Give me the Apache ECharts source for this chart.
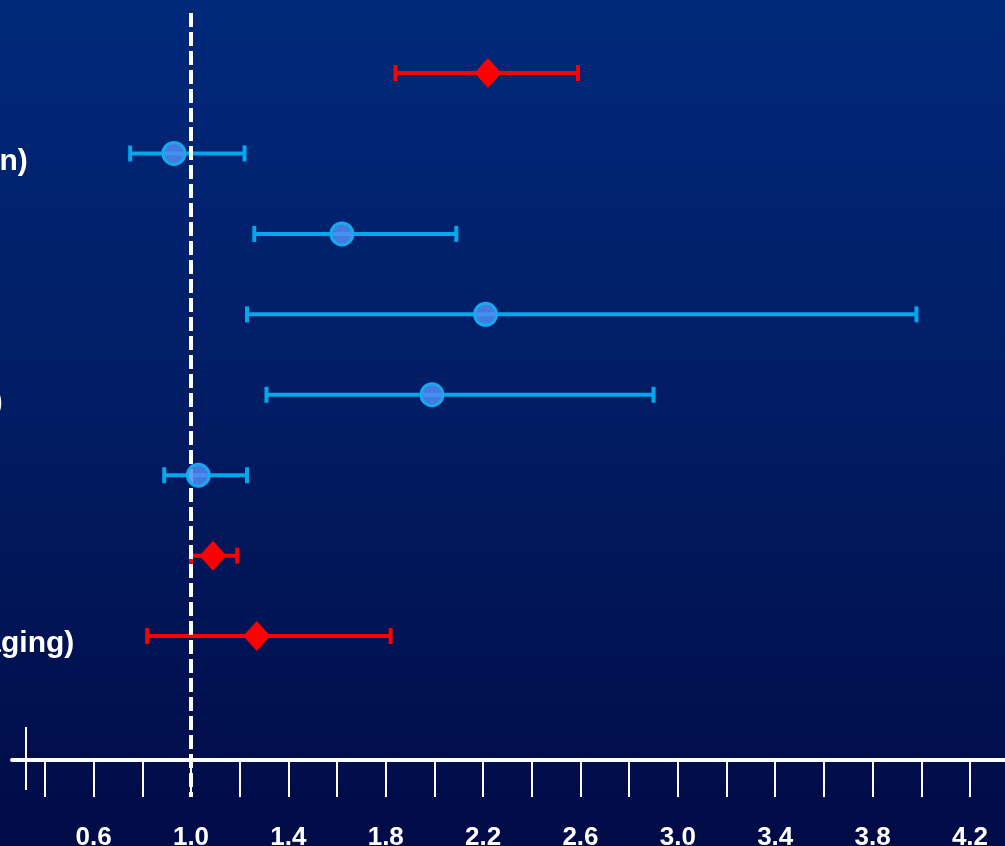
<!DOCTYPE html>
<html>
<head>
<meta charset="utf-8">
<title>Forest plot</title>
<script src="https://cdn.jsdelivr.net/npm/echarts@6/dist/echarts.min.js"></script>
<style>
  html, body { margin: 0; padding: 0; background: #01164f; }
  #chart { width: 1005px; height: 846px; }
</style>
</head>
<body>
<div id="chart"></div>
<script>
// Study rows, top to bottom
const ROW_LABELS = [
  'Overall',
  'Cohort 1 (Caucasian)',
  'Cohort 2',
  'Cohort 3',
  'Cohort 4 (Hispanic)',
  'Cohort 5',
  'Subgroup (ECG)',
  'Subgroup (MRI imaging)'
];
const ROW_INDEX = [1, 2, 3, 4, 5, 6, 7, 8];

// Point estimates and 95% confidence limits
const ESTIMATES = [2.22, 0.93, 1.62, 2.21, 1.99, 1.03, 1.09, 1.27];
const CI_LOW    = [1.84, 0.75, 1.26, 1.23, 1.31, 0.89, 1.00, 0.82];
const CI_HIGH   = [2.59, 1.22, 2.09, 3.98, 2.90, 1.23, 1.19, 1.82];
// Pooled estimates are drawn as red diamonds, single cohorts as blue circles
const IS_POOLED = [true, false, false, false, false, false, true, true];

// Axis ticks and labels
const TICK_VALUES  = [0.4, 0.6, 0.8, 1.0, 1.2, 1.4, 1.6, 1.8, 2.0, 2.2, 2.4, 2.6, 2.8, 3.0, 3.2, 3.4, 3.6, 3.8, 4.0, 4.2];
const LABEL_VALUES = [0.6, 1.0, 1.4, 1.8, 2.2, 2.6, 3.0, 3.4, 3.8, 4.2];
const REFERENCE_VALUE = 1.0;
const AXIS_ORIGIN = 0.32;
const X_MIN = 0.2646, X_MAX = 4.344;
const Y_MIN = 0.2167, Y_MAX = 10;

const RED = '#ff0000';
const BLUE = '#00a8ec';

const chart = echarts.init(document.getElementById('chart'), null, { renderer: 'canvas' });

const barData = ROW_INDEX.map((r, i) => [CI_LOW[i], CI_HIGH[i], r, IS_POOLED[i] ? 1 : 0]);
const pooledPoints = [];
const cohortPoints = [];
ROW_INDEX.forEach((r, i) => {
  (IS_POOLED[i] ? pooledPoints : cohortPoints).push([ESTIMATES[i], r]);
});

const font = "'Liberation Sans', Arial, sans-serif";

chart.setOption({
  animation: false,
  backgroundColor: {
    type: 'linear', x: 0, y: 0, x2: 0, y2: 1,
    colorStops: [
      { offset: 0, color: '#00297b' },
      { offset: 0.5, color: '#011c62' },
      { offset: 1, color: '#010b47' }
    ]
  },
  grid: { left: 12, right: 0, top: 10, bottom: 49, containLabel: false, outerBoundsMode: 'none' },
  xAxis: [
    {
      type: 'value', min: X_MIN, max: X_MAX, position: 'bottom', offset: -37,
      splitLine: { show: false },
      axisLine: { show: true, lineStyle: { color: '#ffffff', width: 4 } },
      axisTick: { show: true, customValues: TICK_VALUES, length: 37, lineStyle: { color: '#ffffff', width: 2 } },
      axisLabel: {
        show: true, customValues: LABEL_VALUES, margin: 65,
        color: '#ffffff', fontFamily: font, fontWeight: 'bold', fontSize: 26,
        formatter: v => v.toFixed(1)
      }
    },
    {
      type: 'value', min: X_MIN, max: X_MAX, position: 'bottom', offset: -70,
      splitLine: { show: false },
      axisLine: { show: false },
      axisTick: { show: true, customValues: [AXIS_ORIGIN], length: 63, lineStyle: { color: '#ffffff', width: 2 } },
      axisLabel: { show: false }
    }
  ],
  yAxis: {
    type: 'value', inverse: true, min: Y_MIN, max: Y_MAX,
    splitLine: { show: false },
    axisLine: { show: false },
    axisTick: { show: false },
    axisLabel: {
      show: true, customValues: ROW_INDEX, align: 'left', margin: 286,
      verticalAlign: 'top', lineHeight: 16,
      color: '#ffffff', fontFamily: font, fontWeight: 'bold', fontSize: 30,
      formatter: v => ROW_LABELS[Math.round(v) - 1] || ''
    }
  },
  series: [
    {
      type: 'custom',
      z: 2,
      data: barData,
      renderItem: (params, api) => {
        const a = api.coord([api.value(0), api.value(2)]);
        const b = api.coord([api.value(1), api.value(2)]);
        const color = api.value(3) ? RED : BLUE;
        const half = 8;
        const style = { stroke: color, lineWidth: 4 };
        return {
          type: 'group',
          children: [
            { type: 'line', shape: { x1: a[0], y1: a[1], x2: b[0], y2: b[1] }, style },
            { type: 'line', shape: { x1: a[0], y1: a[1] - half, x2: a[0], y2: a[1] + half }, style },
            { type: 'line', shape: { x1: b[0], y1: b[1] - half, x2: b[0], y2: b[1] + half }, style }
          ]
        };
      }
    },
    {
      type: 'line',
      z: 3,
      silent: true,
      symbol: 'none',
      data: [[REFERENCE_VALUE, Y_MIN], [REFERENCE_VALUE, Y_MAX]],
      lineStyle: { color: '#ffffff', width: 4, type: [14, 5], dashOffset: -3 }
    },
    {
      type: 'scatter',
      z: 4,
      symbol: 'diamond',
      symbolSize: [27, 30],
      data: pooledPoints,
      itemStyle: { color: RED, opacity: 1 }
    },
    {
      type: 'scatter',
      z: 4,
      symbol: 'circle',
      symbolSize: 22,
      data: cohortPoints,
      itemStyle: { color: 'rgba(80,140,245,0.85)', borderColor: '#18a8ef', borderWidth: 3, opacity: 1 }
    }
  ]
});
</script>
</body>
</html>
